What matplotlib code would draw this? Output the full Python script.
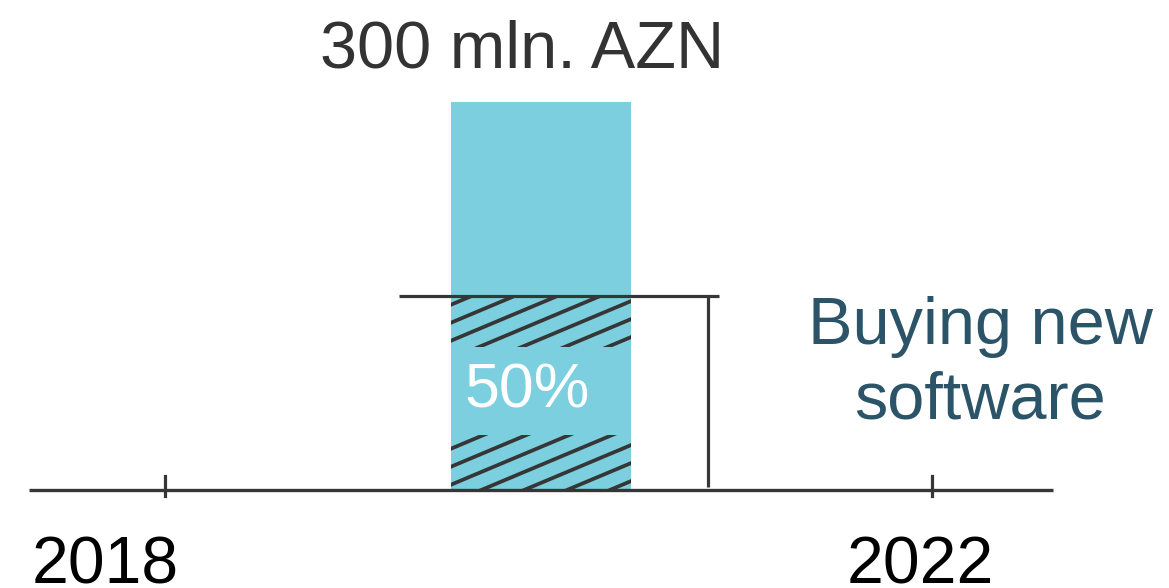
import numpy as np
import matplotlib
matplotlib.use("Agg")
import matplotlib.pyplot as plt
from matplotlib.patches import Rectangle

plt.rcParams['font.family'] = ['Liberation Sans', 'DejaVu Sans']

# --- data ---
tick_years = [2018, 2022]
tick_labels = ["2018", "2022"]
bar_year = 2020
bar_value = 300          # mln. AZN
software_share = 0.50    # share spent on new software
title_text = "300 mln. AZN"
share_label = "Buying new\nsoftware"

# --- style ---
BAR_COLOR = "#7bcfdf"
LINE_COLOR = "#363636"
TEXT_COLOR = "#333333"
LABEL_COLOR = "#2b5468"

fig = plt.figure(figsize=(11.69, 5.88), dpi=100)
ax = fig.add_axes([0, 0, 1, 1])
px_per_year = 191.75
px_per_unit = 1.295
ax.set_xlim(2018 - 165 / px_per_year, 2018 + (1169 - 165) / px_per_year)
ax.set_ylim(-98 / px_per_unit, 490 / px_per_unit)
ax.axis("off")

bar_w = 0.94
bar_x = bar_year - 0.04
x0 = bar_x - bar_w / 2
x1 = bar_x + bar_w / 2
share_value = bar_value * software_share

# main bar
ax.bar([bar_x], [bar_value], width=bar_w, color=BAR_COLOR, zorder=1)

# hatched part of the bar (diagonal lines clipped to the share region)
clip = Rectangle((x0, 0), bar_w, share_value, transform=ax.transData,
                 facecolor="none", edgecolor="none")
ax.add_patch(clip)
slope = 0.42 * px_per_year / px_per_unit   # ~23 degrees on screen
spacing = 18.0 / px_per_unit               # vertical gap between lines
xs = np.array([x0 - 0.1, x1 + 0.1])
for k in range(-25, 20):
    ys = k * spacing + slope * (xs - x0) + 4
    ln, = ax.plot(xs, ys, color=LINE_COLOR, lw=2.7, zorder=2,
                  solid_capstyle="butt")
    ln.set_clip_path(clip)

# clear band behind the percentage label
band_lo, band_hi = 55 / px_per_unit, 143 / px_per_unit
ax.add_patch(Rectangle((x0, band_lo), bar_w, band_hi - band_lo,
                       facecolor=BAR_COLOR, edgecolor="none", zorder=3))
ax.text(bar_x - 0.07, 99 / px_per_unit, f"{software_share:.0%}",
        color="white", fontsize=45, ha="center", va="center", zorder=4)

# bracket marking the share level
ax.plot([2019.22, 2020.89], [share_value, share_value], color=LINE_COLOR,
        lw=2.3, zorder=5, solid_capstyle="butt")
ax.plot([2020.83, 2020.83], [share_value, 2.3], color=LINE_COLOR,
        lw=2.3, zorder=5, solid_capstyle="butt")

# time axis
ax.plot([2017.29, 2022.63], [0, 0], color=LINE_COLOR, lw=2.4, zorder=5,
        solid_capstyle="butt")
label_shift = {2018: -0.31, 2022: -0.06}
for yr, lab in zip(tick_years, tick_labels):
    ax.plot([yr, yr], [-5, 11], color=LINE_COLOR, lw=2.3, zorder=5)
    ax.text(yr + label_shift[yr], -93 / px_per_unit, lab, color="black",
            fontsize=47.5, ha="center", va="baseline")

# title over the bar
ax.text(bar_x - 0.1, 422 / px_per_unit, title_text, color=TEXT_COLOR,
        fontsize=48, ha="center", va="baseline")

# side label
ax.text(2022.25, 126 / px_per_unit, share_label, color=LABEL_COLOR,
        fontsize=48, ha="center", va="center", linespacing=1.27)

fig.savefig("out.png", dpi=100, facecolor="white")
